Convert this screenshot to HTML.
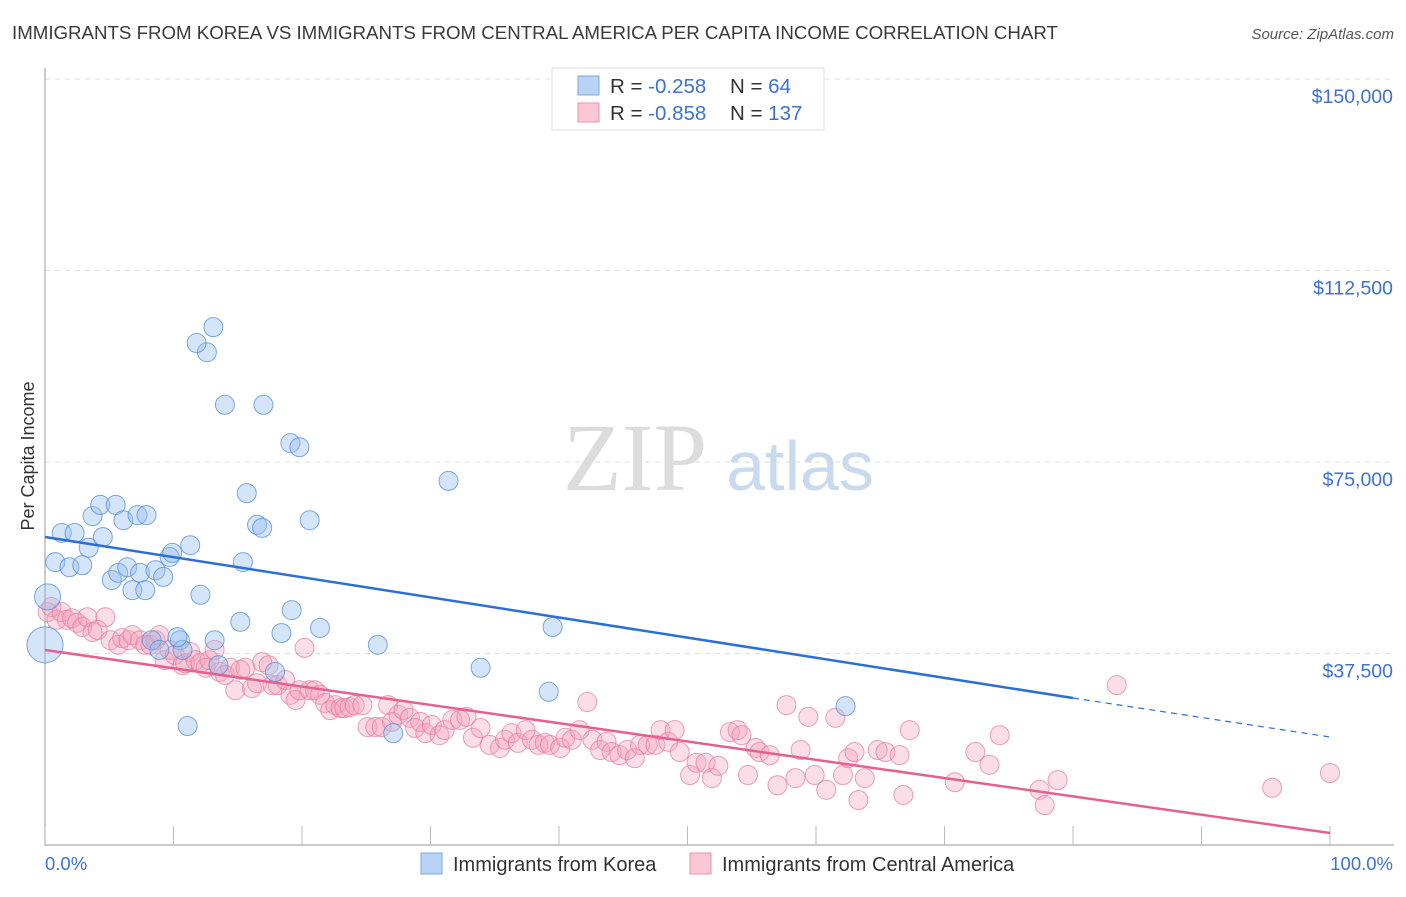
<!DOCTYPE html>
<html><head><meta charset="utf-8"><style>
body{margin:0;background:#fff;font-family:"Liberation Sans",sans-serif}
</style></head><body>
<svg id="c" width="1406" height="892" xmlns="http://www.w3.org/2000/svg" font-family="Liberation Sans, sans-serif">
<text x="12" y="39" font-size="18.7" fill="#3a3a3a">IMMIGRANTS FROM KOREA VS IMMIGRANTS FROM CENTRAL AMERICA PER CAPITA INCOME CORRELATION CHART</text>
<text x="1394" y="39" font-size="15" fill="#555" text-anchor="end" font-style="italic">Source: ZipAtlas.com</text>
<text x="635" y="490" font-size="96" fill="#dcdcdc" font-family="Liberation Serif, serif" text-anchor="middle">ZIP</text>
<text x="800" y="490" font-size="70" fill="#c9daf0" text-anchor="middle">atlas</text>
<text transform="translate(34,456) rotate(-90)" font-size="18" fill="#333" text-anchor="middle">Per Capita Income</text>
<g id="grid"></g><g id="pts"></g><g id="lines"></g>
<g>
<rect x="552" y="68" width="272" height="62" fill="#fff" stroke="#ddd"/>
<rect x="578" y="76" width="21" height="19" fill="#b9d3f5" stroke="#7aa7e6"/>
<rect x="578" y="103" width="21" height="19" fill="#f9c6d4" stroke="#ee93ad"/>
<text x="610" y="93" font-size="20.5" fill="#333">R = <tspan fill="#3b72d4">-0.258</tspan></text>
<text x="730" y="93" font-size="20.5" fill="#333">N = <tspan fill="#3b72d4"> 64</tspan></text>
<text x="610" y="120" font-size="20.5" fill="#333">R = <tspan fill="#3b72d4">-0.858</tspan></text>
<text x="730" y="120" font-size="20.5" fill="#333">N = <tspan fill="#3b72d4">137</tspan></text>
</g>
<g>
<rect x="421" y="853" width="21" height="21" fill="#b9d3f5" stroke="#7aa7e6"/>
<text x="453" y="871" font-size="20" fill="#333">Immigrants from Korea</text>
<rect x="690" y="853" width="21" height="21" fill="#f9c6d4" stroke="#ee93ad"/>
<text x="722" y="871" font-size="20" fill="#333">Immigrants from Central America</text>
</g>
<text x="45" y="870" font-size="18.5" fill="#3b72d4">0.0%</text>
<text x="1393" y="870" font-size="18.5" fill="#3b72d4" text-anchor="end">100.0%</text>
</svg>
<script>
const yTicks=[37500,75000,112500,150000];
const yTickLabels=["$37,500","$75,000","$112,500","$150,000"];
const xTicks=[0,10,20,30,40,50,60,70,80,90,100];
const koreaX=[0.2,0,0.8,1.3,1.9,2.3,2.9,3.4,3.7,4.3,4.5,5.2,5.5,5.7,6.1,6.4,6.8,7.2,7.4,7.8,7.9,8.6,9.2,9.7,9.9,10.5,10.7,11.3,12.1,12.6,11.8,13.1,13.5,13.2,14.0,15.2,15.4,15.7,16.5,17.0,16.9,18.4,19.1,19.2,19.8,20.6,21.4,17.9,11.1,25.9,27.1,31.4,33.9,39.2,39.5,62.3,8.3,8.9,10.3];
const koreaY=[48.6,39.2,55.4,61.1,54.4,61.1,54.8,58.2,64.4,66.6,60.3,51.9,66.6,53.3,63.6,54.4,49.9,64.6,53.3,49.9,64.6,53.8,52.5,56.4,57.2,40.1,38.2,58.7,49.0,96.5,98.3,101.4,35.2,40.1,86.2,43.7,55.4,68.9,62.7,86.2,62.1,41.5,78.7,46.0,77.9,63.6,42.5,33.9,23.3,39.2,21.9,71.3,34.7,30.0,42.7,27.2,40.1,38.2,40.7];
const camX=[0.2,0.5,0.9,1.3,1.7,2.1,2.5,2.9,3.3,3.7,4.1,4.7,5.1,5.7,6.0,6.5,6.8,7.4,7.8,8.2,8.6,8.9,9.3,9.7,10.1,10.7,10.9,11.3,11.7,12.1,12.5,12.8,13.2,13.6,14.0,14.4,14.8,15.2,15.6,16.1,16.5,16.9,17.4,17.7,18.1,18.7,19.1,19.5,19.8,20.2,20.6,21.0,21.4,21.8,22.2,22.6,23.0,23.3,23.7,24.1,24.7,25.1,25.7,26.2,26.7,27.0,27.5,27.9,28.4,28.8,29.2,29.6,30.1,30.7,31.1,31.7,32.3,32.8,33.3,33.9,34.6,35.4,35.8,36.3,36.8,37.4,37.9,38.4,38.9,39.3,40.1,40.5,41.0,41.6,42.2,42.6,43.2,43.7,44.1,44.7,45.3,45.9,46.3,46.9,47.5,47.9,48.5,49.0,49.4,50.2,50.7,51.4,51.9,52.4,53.3,53.9,54.2,54.7,55.3,55.6,56.4,57.0,57.7,58.4,58.8,59.4,59.9,60.8,61.5,62.1,62.5,63.0,63.3,63.8,64.8,65.4,66.5,66.8,67.3,70.8,72.4,73.5,74.3,77.4,77.8,78.8,83.4,95.5,100];
const camY=[45.6,46.6,44.1,45.6,44.1,44.4,43.5,42.7,44.6,41.7,42.1,44.6,40.1,39.2,40.5,40.1,41.1,40.1,39.2,39.2,40.1,41.1,36.2,38.2,37.2,35.2,35.6,37.8,36.2,35.6,34.7,36.2,38.2,33.9,33.3,34.7,30.3,34.3,34.7,30.7,31.7,35.8,35.2,31.3,31.3,32.3,29.4,28.4,30.3,38.6,30.3,30.3,29.4,27.8,26.4,27.4,26.8,26.8,27.0,27.4,27.4,23.1,23.1,23.1,27.4,24.1,25.5,26.4,24.9,22.9,24.1,21.9,23.5,21.5,22.5,24.5,24.5,25.1,21.0,22.9,19.6,19.0,20.6,21.9,20.0,22.5,20.6,19.6,20.0,19.6,19.0,21.0,20.6,22.5,28.0,20.6,18.6,20.2,18.2,17.6,18.6,17.0,19.6,19.6,19.6,22.5,20.2,22.5,18.2,13.7,16.1,16.1,13.1,15.5,22.1,22.5,21.5,13.7,19.0,18.2,17.6,11.7,27.4,13.1,18.6,25.1,13.7,10.8,24.9,13.7,17.0,18.2,8.8,13.1,18.6,18.2,17.6,9.8,22.5,12.3,18.2,15.7,21.5,10.8,7.8,12.7,31.3,11.2,14.1];
const koreaTrend=[60313,28786,21149]; // at 0%, 80%, 100%
const camTrend=[38185,2350]; // at 0%, 100%
const X=v=>45+v*12.85, Y=v=>845-v/37500*191.5;
const NS="http://www.w3.org/2000/svg";
function mk(t,a,p){const e=document.createElementNS(NS,t);for(const k in a)e.setAttribute(k,a[k]);p.appendChild(e);return e;}
const g=document.getElementById('grid');
yTicks.forEach((t,i)=>{
 const l=mk('line',{x1:45,x2:1394,y1:Y(t),y2:Y(t),stroke:'#ddd','stroke-dasharray':'5,5'},g);
 
 
 const tx=mk('text',{x:1393,y:Y(t)+24,'font-size':19.5,fill:'#3b72d4','text-anchor':'end'},g);
 tx.textContent=yTickLabels[i];
 
 
});
const ax=mk('path',{d:'M45,68V845H1394',fill:'none',stroke:'#aaa','stroke-width':1.2},g);


xTicks.forEach(t=>{const l=mk('line',{x1:X(t),x2:X(t),y1:826,y2:845,stroke:'#bbb'},g);
 
 });
const p=document.getElementById('pts');
camX.forEach((x,i)=>{const c=mk('circle',{cx:X(x),cy:Y(camY[i]*1000),r:9.5,fill:'rgba(244,160,185,0.35)',stroke:'rgba(232,120,155,0.7)','stroke-width':1},p);
 
 });
koreaX.forEach((x,i)=>{const r=i==0?13:(i==1?18:9.5);const c=mk('circle',{cx:X(x),cy:Y(koreaY[i]*1000),r:r,fill:'rgba(150,190,240,0.4)',stroke:'rgba(80,140,220,0.75)','stroke-width':1},p);
 
 });
const L=document.getElementById('lines');
let a=mk('line',{x1:X(0),y1:Y(koreaTrend[0]),x2:X(80),y2:Y(koreaTrend[1]),stroke:'#2b6fd6','stroke-width':2.5},L);


a=mk('line',{x1:X(80),y1:Y(koreaTrend[1]),x2:X(100),y2:Y(koreaTrend[2]),stroke:'#2b6fd6','stroke-width':1.2,'stroke-dasharray':'6,5'},L);


a=mk('line',{x1:X(0),y1:Y(camTrend[0]),x2:X(100),y2:Y(camTrend[1]),stroke:'#e5608f','stroke-width':2.5},L);


</script>
</body></html>
